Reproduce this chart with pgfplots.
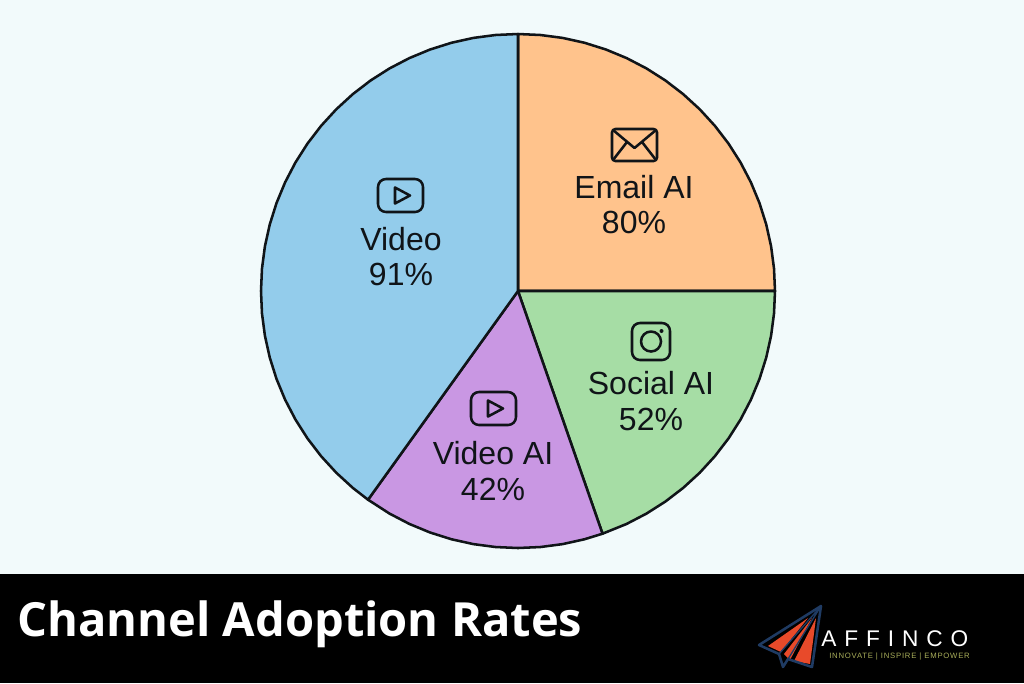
\documentclass[border=0pt]{standalone}
\usepackage{fontspec}
\setmainfont{Liberation Sans}
\newfontfamily\titlefont{Open Sans}
\usepackage{pgfplots}
\pgfplotsset{compat=1.18}
\usepgfplotslibrary{polar}
\definecolor{bgcol}{HTML}{F2FAFB}
\definecolor{piblue}{HTML}{93CCEB}
\definecolor{piorange}{HTML}{FFC38C}
\definecolor{pigreen}{HTML}{A6DDA5}
\definecolor{pipurple}{HTML}{C997E3}
\definecolor{inkcol}{HTML}{101418}
\definecolor{navycol}{HTML}{1F3B63}
\definecolor{redcol}{HTML}{E84A2A}
\definecolor{tagcol}{HTML}{A9AE5A}
\newcommand{\lab}{\fontsize{24}{28}\selectfont}
\begin{document}
\begin{tikzpicture}[x=0.75pt,y=-0.75pt,icon/.style={draw=inkcol,line width=1.9pt,line join=round}]
\path[use as bounding box] (0,0) rectangle (1024,683);
\fill[bgcol] (0,0) rectangle (1024,574);
\fill[black] (0,574) rectangle (1024,683);
\coordinate (piecentre) at (518,291);

\begin{polaraxis}[
  at={(piecentre)}, anchor=center,
  scale only axis, width=385.5pt, height=385.5pt,
  xmin=0, xmax=360, ymin=0, ymax=257,
  hide axis, clip=false,
]
  % Email AI
  \addplot[fill=piorange, draw=inkcol, line width=1.9pt, line join=round] coordinates {
    (0,0)(0,257)(5,257)(10,257)(15,257)(20,257)(25,257)(30,257)(35,257)(40,257)(45,257)
    (50,257)(55,257)(60,257)(65,257)(70,257)(75,257)(80,257)(85,257)(90,257)(0,0)};
  % Social AI
  \addplot[fill=pigreen, draw=inkcol, line width=1.9pt, line join=round] coordinates {
    (0,0)(289.2,257)(295,257)(300,257)(305,257)(310,257)(315,257)(320,257)(325,257)(330,257)
    (335,257)(340,257)(345,257)(350,257)(355,257)(360,257)(0,0)};
  % Video AI
  \addplot[fill=pipurple, draw=inkcol, line width=1.9pt, line join=round] coordinates {
    (0,0)(234.3,257)(240,257)(245,257)(250,257)(255,257)(260,257)(265,257)(270,257)(275,257)
    (280,257)(285,257)(289.2,257)(0,0)};
  % Video
  \addplot[fill=piblue, draw=inkcol, line width=1.9pt, line join=round] coordinates {
    (0,0)(90,257)(95,257)(100,257)(105,257)(110,257)(115,257)(120,257)(125,257)(130,257)
    (135,257)(140,257)(145,257)(150,257)(155,257)(160,257)(165,257)(170,257)(175,257)(180,257)
    (185,257)(190,257)(195,257)(200,257)(205,257)(210,257)(215,257)(220,257)(225,257)(230,257)
    (234.3,257)(0,0)};
\end{polaraxis}

% labels
\node[inkcol,font=\lab] at (634,187) {Email AI};
\node[inkcol,font=\lab] at (634,222) {80\%};
\node[inkcol,font=\lab] at (651,383) {Social AI};
\node[inkcol,font=\lab] at (651,419) {52\%};
\node[inkcol,font=\lab] at (493,453) {Video AI};
\node[inkcol,font=\lab] at (493,489) {42\%};
\node[inkcol,font=\lab] at (401,239) {Video};
\node[inkcol,font=\lab] at (401,274) {91\%};

% icons
\draw[icon,rounded corners=2.5pt] (612,129) rectangle (657,161);
\draw[icon] (613,130) -- (634.5,148) -- (656,130) (613,160) -- (627,142) (656,160) -- (642,142);
\draw[icon,rounded corners=6pt] (632,323) rectangle (670,360);
\draw[icon] (651,341.5) circle (10);
\fill[inkcol] (661.5,331) circle (2);
\draw[icon,rounded corners=6pt] (378,179) rectangle (423,212);
\draw[icon] (395,187.5) -- (410,195.5) -- (395,203.5) -- cycle;
\draw[icon,rounded corners=6pt] (471,392) rectangle (516,425);
\draw[icon] (488,400.5) -- (503,408.5) -- (488,416.5) -- cycle;

% footer
\node[white,anchor=west,inner sep=0pt,font=\fontsize{35.3}{40}\selectfont\titlefont\bfseries] at (17,624) {Channel Adoption Rates};

% logo
\fill[redcol] (768,646) -- (808,618) -- (781,652) -- cycle;
\fill[redcol] (784,654) -- (812,618) -- (790,660) -- cycle;
\fill[redcol] (794,661) -- (816,618) -- (810,664) -- cycle;
\draw[navycol,line width=1.9pt,line join=round] (821,606) -- (759,645) -- (779,654) -- (783,667) -- (788,659) -- (812,667) -- cycle;
\draw[navycol,line width=1pt] (821,606) -- (779,654) (821,606) -- (788,659);
\node[white,anchor=west,inner sep=0pt,font=\fontsize{17}{18}\selectfont\addfontfeatures{LetterSpace=35}] at (821,638.5) {AFFINCO};
\node[tagcol,anchor=west,inner sep=0pt,font=\fontsize{5.8}{7}\selectfont\addfontfeatures{LetterSpace=10}] at (829,657) {INNOVATE | INSPIRE | EMPOWER};
\end{tikzpicture}
\end{document}
